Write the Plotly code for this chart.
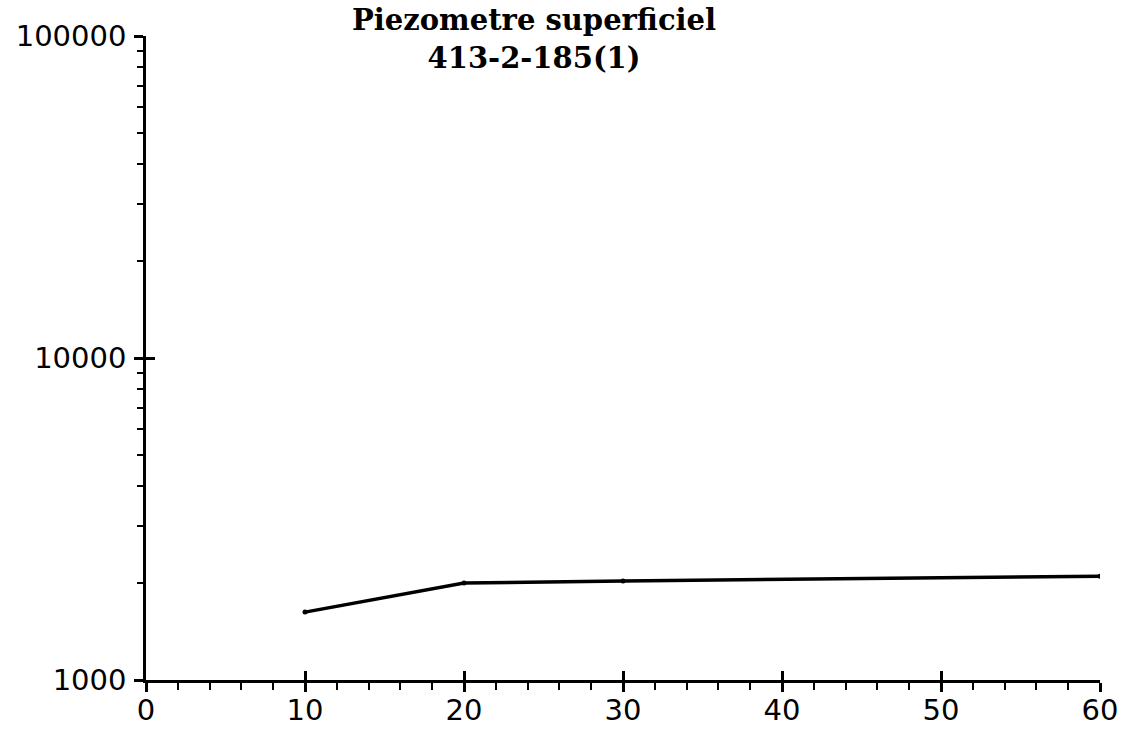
import plotly.graph_objects as go

# Data
x_vals = [10, 20, 30, 60]
y_vals = [1625, 2000, 2030, 2100]
title_line1 = "Piezometre superficiel"
title_line2 = "413-2-185(1)"
x_ticks = [0, 10, 20, 30, 40, 50, 60]
y_ticks = [1000, 10000, 100000]
y_ticklabels = ["1000", "10000", "100000"]
y_minor_ticks = [2000, 3000, 4000, 5000, 6000, 7000, 8000, 9000,
                 20000, 30000, 40000, 50000, 60000, 70000, 80000, 90000]

tick_font = dict(family="DejaVu Sans, sans-serif", size=29, color="black")

fig = go.Figure()
fig.add_trace(go.Scatter(
    x=x_vals, y=y_vals, mode="lines+markers",
    line=dict(color="black", width=3.5),
    marker=dict(color="black", size=5),
    showlegend=False, hoverinfo="skip",
))
# invisible trace on overlay axes so they are drawn
fig.add_trace(go.Scatter(x=x_vals, y=y_vals, xaxis="x2", yaxis="y2",
                         mode="markers", marker=dict(opacity=0),
                         showlegend=False, hoverinfo="skip"))

fig.update_layout(
    width=1124, height=729,
    margin=dict(l=146, r=24, t=36, b=49),
    paper_bgcolor="white", plot_bgcolor="white",
    xaxis=dict(
        range=[0, 60], tickvals=x_ticks, ticks="outside", ticklen=9, tickwidth=2.5,
        tickcolor="black", showline=True, linecolor="black", linewidth=2.5,
        showgrid=False, zeroline=False, tickfont=tick_font, ticklabelstandoff=-7,
        automargin=False,
        minor=dict(dtick=2, ticks="outside", ticklen=7, tickwidth=2, tickcolor="black", showgrid=False),
    ),
    yaxis=dict(
        type="log", range=[3, 5], tickvals=y_ticks, ticktext=y_ticklabels,
        ticks="outside", ticklen=9, tickwidth=2.5, tickcolor="black",
        showline=True, linecolor="black", linewidth=2.5, showgrid=False,
        zeroline=False, tickfont=tick_font, ticklabelstandoff=2, automargin=False,
        minor=dict(tickvals=y_minor_ticks, ticks="outside", ticklen=6, tickwidth=2,
                   tickcolor="black", showgrid=False),
    ),
    xaxis2=dict(
        overlaying="x", range=[0, 60], tickvals=x_ticks, ticks="inside", ticklen=9,
        tickwidth=2.5, tickcolor="black", showticklabels=False, showgrid=False,
        zeroline=False, showline=False, side="bottom", anchor="y2", automargin=False,
    ),
    yaxis2=dict(
        overlaying="y", type="log", range=[3, 5], tickvals=y_ticks, ticks="inside",
        ticklen=9, tickwidth=2.5, tickcolor="black", showticklabels=False,
        showgrid=False, zeroline=False, showline=False, side="left", anchor="x2",
        automargin=False,
    ),
)

title_font = dict(family="DejaVu Serif, serif", size=29, color="black")
fig.add_annotation(text="<b>" + title_line1 + "</b><br><b>" + title_line2 + "</b>",
                   xref="paper", yref="paper",
                   x=(534 - 146) / 954, y=(680 - 1) / 644, xanchor="center", yanchor="top",
                   showarrow=False, font=title_font)

fig.write_html("out.html")
